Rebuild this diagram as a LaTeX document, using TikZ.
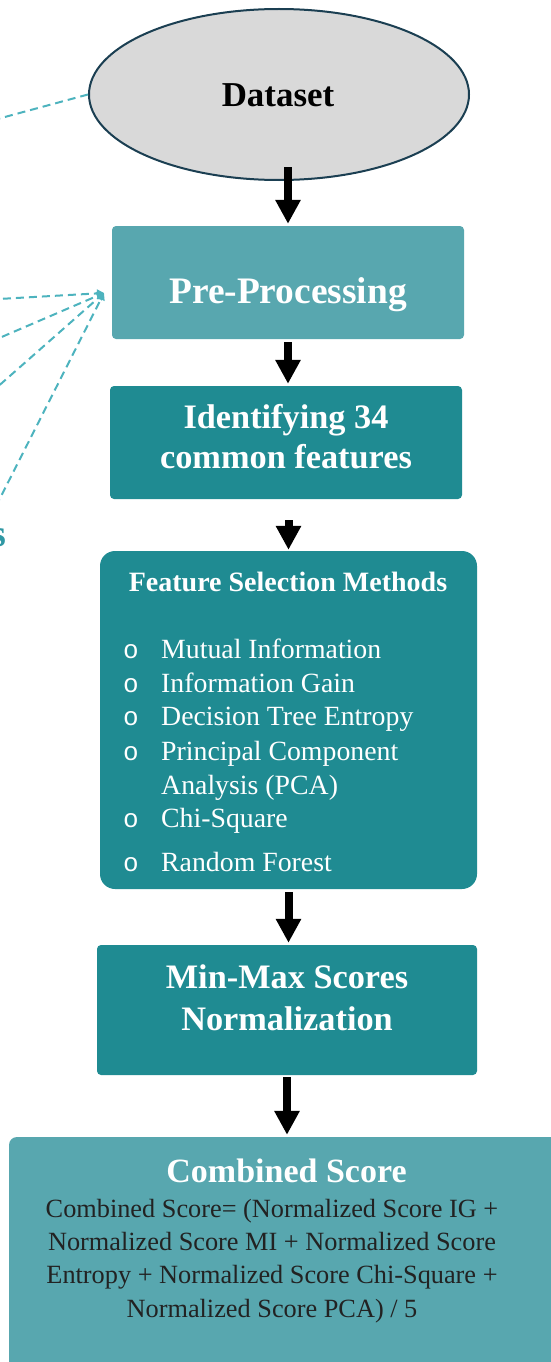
\documentclass[tikz,border=0pt]{standalone}
\usepackage{fontspec}
\setmainfont{Liberation Serif}
\newfontfamily\bulletfont{Liberation Mono}
\usetikzlibrary{arrows.meta,shapes.geometric,calc}

\definecolor{lightteal}{HTML}{58A7AF}
\definecolor{darkteal}{HTML}{1F8B92}
\definecolor{ellgray}{HTML}{D9D9D9}
\definecolor{ellline}{HTML}{1B3F52}
\definecolor{dashteal}{HTML}{4DB3BE}
\definecolor{labelteal}{HTML}{3098A4}
\definecolor{bodytext}{HTML}{222222}

\newcommand\setsz[2]{\fontsize{#1}{#2}\selectfont}

\begin{document}
\begin{tikzpicture}[x=1pt,y=-1pt,
  box/.style={rectangle, inner sep=0pt, rounded corners=4pt},
  title/.style={inner sep=0pt, anchor=base, text=white, font=\setsz{34.3}{40}\bfseries},
  item/.style={inner sep=0pt, anchor=base west, text=white, font=\setsz{27.8}{33}},
  bullet/.style={inner sep=0pt, anchor=base, text=white, font=\bulletfont\setsz{26}{30}},
  body/.style={inner sep=0pt, anchor=base, text=bodytext, font=\setsz{26.3}{32}},
  flow/.style={line width=8pt, -{Triangle[width=24pt,length=24pt]}},
  dashline/.style={dashteal, line width=2pt, dash pattern=on 8pt off 5pt},
  link/.style={dashline, -{Triangle[width=8pt,length=7pt]}},
]
\useasboundingbox (0,0) rectangle (551,1362);

% ---- boxes ----
\node[ellipse, draw=ellline, line width=2pt, fill=ellgray, inner sep=0pt,
      minimum width=380pt, minimum height=171pt] (ds) at (279,94.5) {};
\node[box, fill=lightteal, minimum width=352pt, minimum height=113pt] (pre) at (288,282.5) {};
\node[box, fill=darkteal, minimum width=352pt, minimum height=113pt] (id) at (286,442.5) {};
\node[box, fill=darkteal, rounded corners=15pt, minimum width=377pt, minimum height=338pt] (fs) at (288.5,720) {};
\node[box, fill=darkteal, minimum width=380pt, minimum height=130pt] (mm) at (287,1010) {};
\node[box, fill=lightteal, rounded corners=8pt, minimum width=560pt, minimum height=250pt] (cs) at (289,1262) {};

% ---- texts ----
\node[inner sep=0pt, anchor=base, font=\setsz{34.9}{40}\bfseries] (dst) at (278,107) {Dataset};
\node[title, font=\setsz{37.4}{42}\bfseries] (pret) at (288,303) {Pre-Processing};
\node[title] (idt1) at (286,428) {Identifying 34};
\node[title] (idt2) at (286,468) {common features};

\node[title, font=\setsz{28}{33}\bfseries] (fst) at (288,591) {Feature Selection Methods};
\node[bullet] (b1) at (131,658) {o};
\node[item] (i1) at (161,658) {Mutual Information};
\node[bullet] (b2) at (131,692) {o};
\node[item] (i2) at (161,692) {Information Gain};
\node[bullet] (b3) at (131,725) {o};
\node[item] (i3) at (161,725) {Decision Tree Entropy};
\node[bullet] (b4) at (131,760) {o};
\node[item] (i4) at (161,760) {Principal Component};
\node[item] (i4b) at (161,794) {Analysis (PCA)};
\node[bullet] (b5) at (131,827) {o};
\node[item] (i5) at (161,827) {Chi-Square};
\node[bullet] (b6) at (131,871) {o};
\node[item] (i6) at (161,871) {Random Forest};

\node[title] (mmt1) at (287,988) {Min-Max Scores};
\node[title] (mmt2) at (287,1030) {Normalization};

\node[title, font=\setsz{34}{40}\bfseries] (cst) at (286.5,1182) {Combined Score};
\node[body] (cs1) at (272,1217) {Combined Score= (Normalized Score IG +};
\node[body] (cs2) at (272,1250) {Normalized Score MI + Normalized Score};
\node[body] (cs3) at (272,1283) {Entropy + Normalized Score Chi-Square +};
\node[body] (cs4) at (272,1317) {Normalized Score PCA) / 5};

% ---- main flow ----
\draw[flow, shorten >=2pt] ($(ds.south -| pre.north)+(0,-14)$) -- (pre.north);
\draw[flow, shorten <=3pt, shorten >=2pt] (pre.south) -- (pre.south |- id.north);
\draw[flow, shorten >=1pt] ($(id.south -| fs.north)+(0,21)$) -- (fs.north);
\draw[flow, shorten <=3pt, shorten >=2pt] (fs.south) -- (fs.south |- mm.north);
\draw[flow, shorten <=2pt, shorten >=2pt] (mm.south) -- (mm.south |- cs.north);

% ---- side links ----
\node[inner sep=0pt, anchor=base east, text=labelteal, font=\setsz{38}{44}\bfseries] (side) at (6,546) {s};
\coordinate (d0) at (-10,121);
\coordinate (hub) at (104,293);
\coordinate (da) at (-10,299.5);
\coordinate (db) at (-10,342);
\coordinate (dc) at (-10,393.5);
\coordinate (dd) at (-10,518);
\draw[dashline] (ds.west) -- (d0);
\draw[link] (da) -- (hub);
\draw[link] (db) -- (hub);
\draw[link] (dc) -- (hub);
\draw[link] (dd) -- (hub);
\end{tikzpicture}
\end{document}
